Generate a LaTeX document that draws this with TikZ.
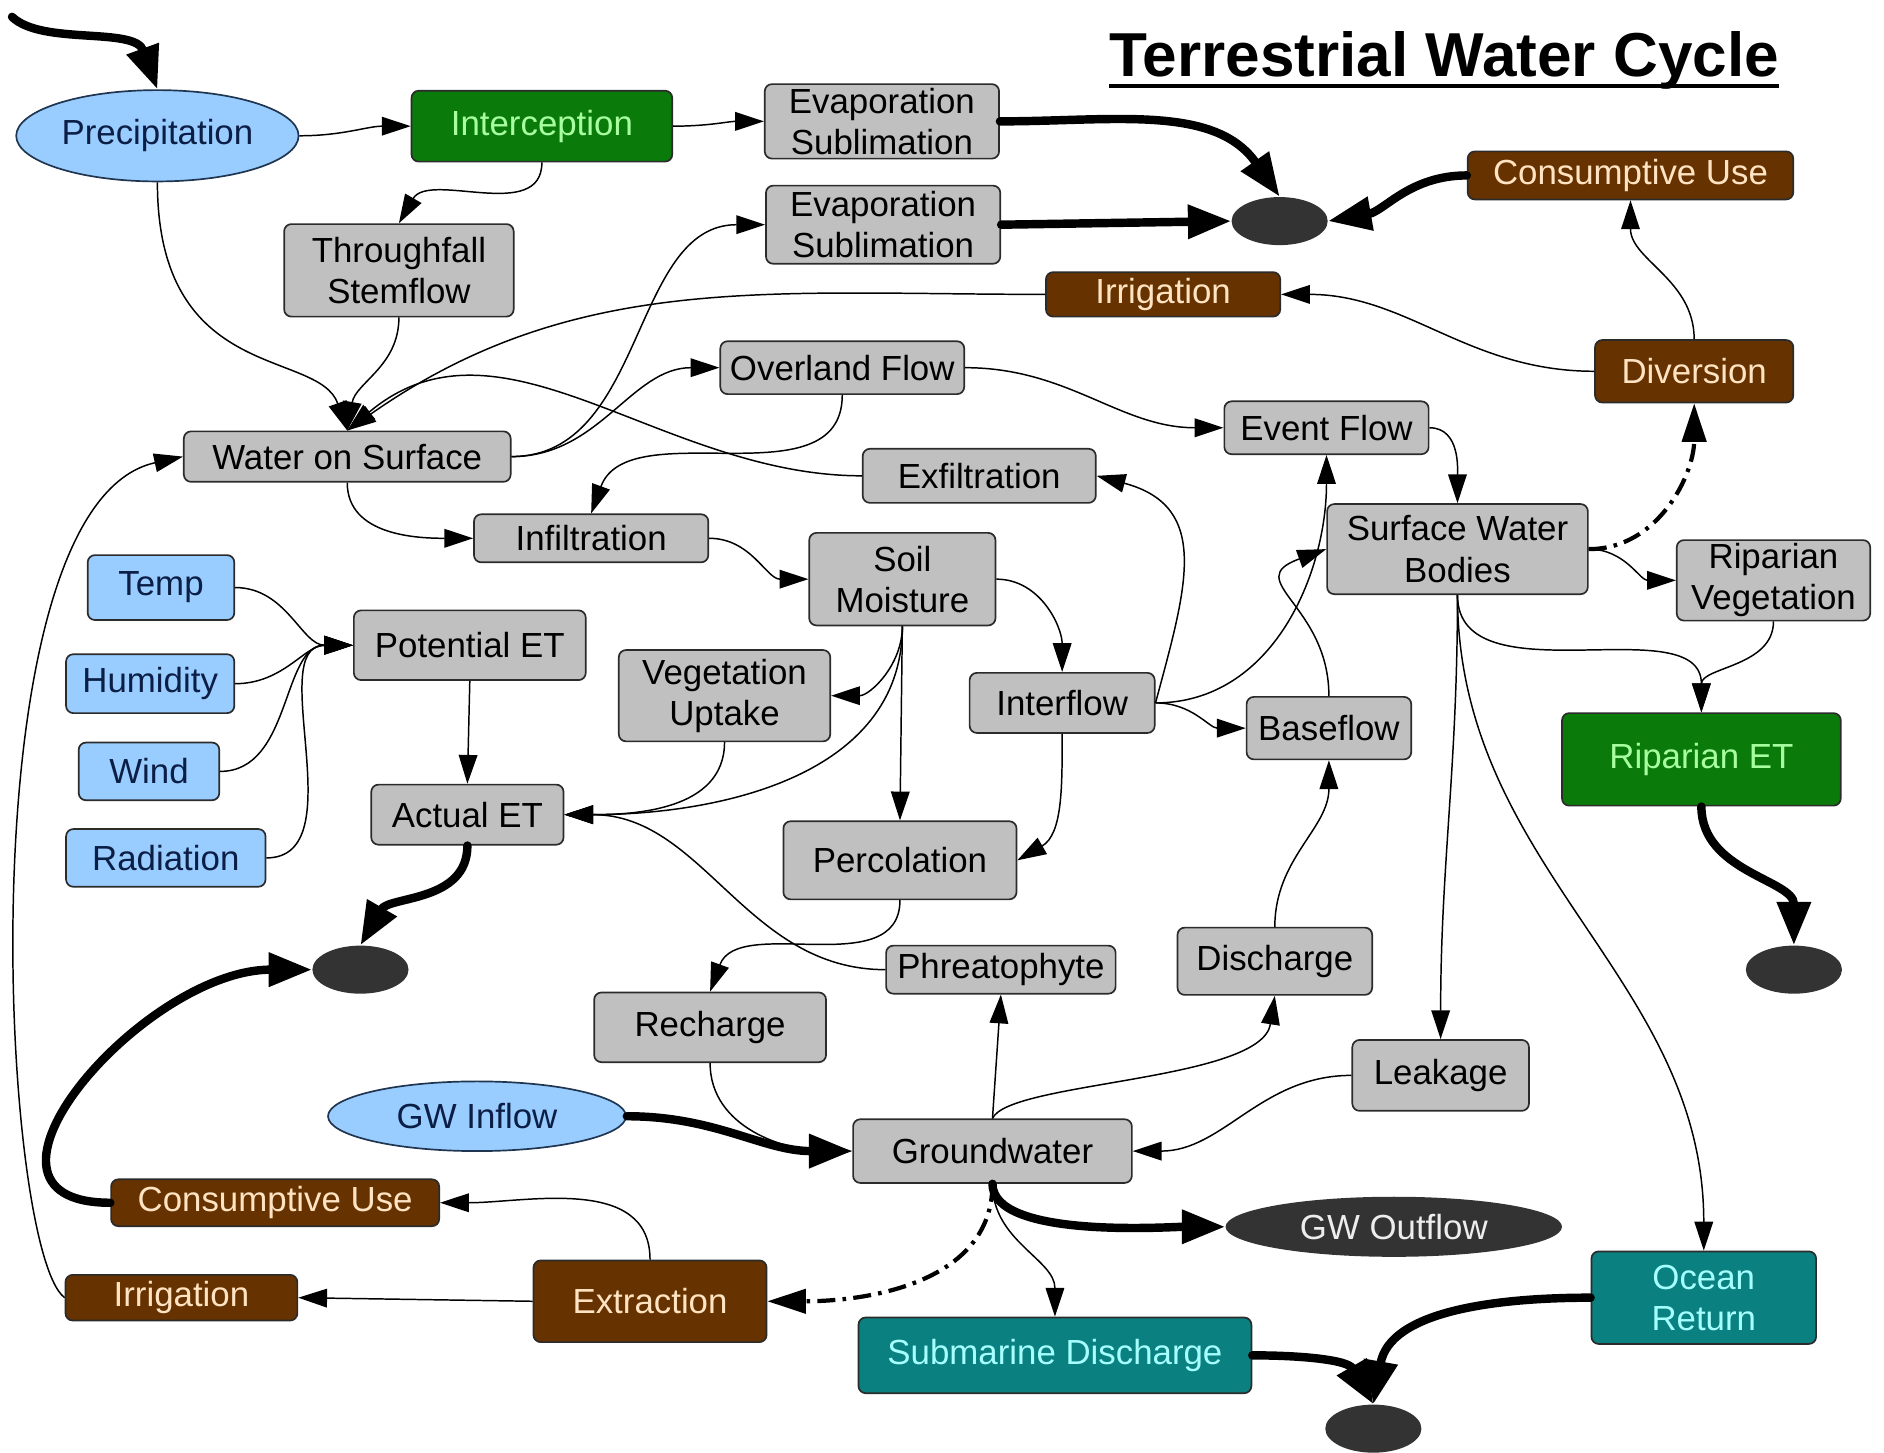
\documentclass[tikz,border=0pt]{standalone}
\usepackage{fontspec}
\setmainfont{Liberation Sans}
\usepackage{xcolor}
\usepackage{tikz}
\usetikzlibrary{shapes.geometric}
\usetikzlibrary{arrows.meta}

\definecolor{boxgray}{HTML}{C0C0C0}
\definecolor{boxline}{HTML}{2B2B2B}
\definecolor{skyfill}{HTML}{99CCFF}
\definecolor{skytext}{HTML}{0B1E45}
\definecolor{skyline}{HTML}{1F3550}
\definecolor{leaffill}{HTML}{0A7A0A}
\definecolor{leaftext}{HTML}{A8FFA0}
\definecolor{soilfill}{HTML}{663300}
\definecolor{soiltext}{HTML}{FFE3C2}
\definecolor{seafill}{HTML}{0A8080}
\definecolor{seatext}{HTML}{A6FFFF}
\definecolor{sinkfill}{HTML}{333333}
\definecolor{sinktext}{HTML}{EDEDED}

\begin{document}
\begin{tikzpicture}[
			x=0.2mm, y=-0.2mm,
			every node/.style={font=\fontsize{16.5}{19.5}\selectfont},
			store/.style={
				draw=boxline,
				fill=boxgray,
				line width=0.8pt,
				rounded corners=1.2mm,
				inner sep=0pt,
				align=center,
				text=black,
			},
			driver/.style={store, fill=skyfill, text=skytext},
			leaf/.style={store, fill=leaffill, text=leaftext},
			supply/.style={store, fill=soilfill, text=soiltext},
			sea/.style={store, fill=seafill, text=seatext},
			rain/.style={ellipse, draw=skyline, line width=0.8pt, fill=skyfill, text=skytext, inner sep=0pt},
			sink/.style={ellipse, fill=sinkfill, text=sinktext, inner sep=0pt,
				minimum width=16mm, minimum height=8mm},
			headline/.style={font=\fontsize{29.4}{33}\selectfont\bfseries, inner sep=0pt},
			flow/.style={line width=0.7pt, -{Triangle[length=4.8mm,width=3.1mm]}},
			bigflow/.style={line width=4pt, line cap=round, -{Triangle[length=7.2mm,width=5.4mm]}},
			maybe/.style={line width=2pt, dash pattern=on 3mm off 1.2mm on 0.6mm off 1.2mm,
				-{Triangle[length=6.4mm,width=4mm]}},
			]
			\useasboundingbox (0,0) rectangle (1568,1209);
			\node[headline, anchor=base] (title) at (1202,64) {Terrestrial Water Cycle};
			\draw[line width=1.9pt] ([yshift=-1.5mm]title.base west) -- ([yshift=-1.5mm]title.base east);
			%% Boxes
			\node[rain, minimum width=47mm, minimum height=15.2mm] (precip) at (131,113) {Precipitation};
			\node[leaf, minimum width=43.4mm, minimum height=11.8mm] (intercept) at (451,105) {Interception};
			\node[store, minimum width=39mm, minimum height=12.4mm] (evapA) at (734,101) {Evaporation\\Sublimation};
			\node[store, minimum width=39mm, minimum height=13mm] (evapB) at (735,187) {Evaporation\\Sublimation};
			\node[supply, minimum width=54.2mm, minimum height=8mm] (useA) at (1357,146) {Consumptive Use};
			\node[store, minimum width=38.2mm, minimum height=15.4mm] (thru) at (332,225) {Throughfall\\Stemflow};
			\node[supply, minimum width=39mm, minimum height=7.4mm] (irrA) at (968,245) {Irrigation};
			\node[store, minimum width=40.6mm, minimum height=8.8mm] (overland) at (701,306) {Overland Flow};
			\node[supply, minimum width=33mm, minimum height=10.4mm] (diversion) at (1410,309) {Diversion};
			\node[store, minimum width=54.4mm, minimum height=8.4mm] (surface) at (289,380) {Water on Surface};
			\node[store, minimum width=34mm, minimum height=8.8mm] (event) at (1104,356) {Event Flow};
			\node[store, minimum width=38.8mm, minimum height=9mm] (exfil) at (815,396) {Exfiltration};
			\node[store, minimum width=39mm, minimum height=8mm] (infil) at (492,448) {Infiltration};
			\node[store, minimum width=43.4mm, minimum height=15mm] (swb) at (1213,457) {Surface Water\\Bodies};
			\node[store, minimum width=32.2mm, minimum height=13.4mm] (ripveg) at (1476,483) {Riparian\\Vegetation};
			\node[store, minimum width=31mm, minimum height=15.4mm] (soil) at (751,482) {Soil\\Moisture};
			\node[driver, minimum width=24.4mm, minimum height=10.8mm] (temp) at (134,489) {Temp};
			\node[store, minimum width=38.6mm, minimum height=11.6mm] (pet) at (391,537) {Potential ET};
			\node[driver, minimum width=28mm, minimum height=9.8mm] (humid) at (125,569) {Humidity};
			\node[store, minimum width=35.2mm, minimum height=15.2mm] (uptake) at (603,579) {Vegetation\\Uptake};
			\node[store, minimum width=30.8mm, minimum height=10mm] (interflow) at (884,585) {Interflow};
			\node[store, minimum width=27.4mm, minimum height=10.4mm] (baseflow) at (1106,606) {Baseflow};
			\node[leaf, minimum width=46.4mm, minimum height=15.4mm] (ripet) at (1416,632) {Riparian ET};
			\node[driver, minimum width=23.4mm, minimum height=9.6mm] (wind) at (124,642) {Wind};
			\node[store, minimum width=32mm, minimum height=10mm] (aet) at (389,678) {Actual ET};
			\node[driver, minimum width=33.2mm, minimum height=9.6mm] (rad) at (138,714) {Radiation};
			\node[store, minimum width=38.8mm, minimum height=13mm] (perc) at (749,716) {Percolation};
			\node[store, minimum width=38.2mm, minimum height=8mm] (phreat) at (833,807) {Phreatophyte};
			\node[store, minimum width=32.4mm, minimum height=11.2mm] (discharge) at (1061,800) {Discharge};
			\node[store, minimum width=38.6mm, minimum height=11.6mm] (recharge) at (591,855) {Recharge};
			\node[store, minimum width=29.4mm, minimum height=11.8mm] (leakage) at (1199,895) {Leakage};
			\node[rain, minimum width=49.6mm, minimum height=11.6mm] (gwin) at (397,929) {GW Inflow};
			\node[store, minimum width=46.4mm, minimum height=10.6mm] (gw) at (826,958) {Groundwater};
			\node[supply, minimum width=54.6mm, minimum height=7.8mm] (useB) at (229,1001) {Consumptive Use};
			\node[sink, minimum width=56mm, minimum height=10mm] (gwout) at (1160,1021) {GW Outflow};
			\node[supply, minimum width=38.6mm, minimum height=7.6mm] (irrB) at (151,1080) {Irrigation};
			\node[supply, minimum width=38.8mm, minimum height=13.6mm] (extract) at (541,1083) {Extraction};
			\node[sea, minimum width=37.4mm, minimum height=15.4mm] (ocean) at (1418,1080) {Ocean\\Return};
			\node[sea, minimum width=65.4mm, minimum height=12.6mm] (submarine) at (878,1128) {Submarine Discharge};
			%% Sinks
			\node[sink] (sinkA) at (1065,184) {};
			\node[sink] (sinkB) at (300,807) {};
			\node[sink] (sinkC) at (1493,807) {};
			\node[sink] (sinkD) at (1143,1189) {};
			\coordinate (rain) at (10,14);
			%% Atmosphere and canopy
			\draw[bigflow] (rain) .. controls (35,38) and (112,22) .. (precip.north);
			\draw[flow] (precip.east) to[out=0,in=180] (intercept.west);
			\draw[flow] (intercept.east) to[out=0,in=180] (evapA.west);
			\draw[flow] (intercept.south) to[out=-90,in=60] (thru.north);
			\draw[bigflow] (evapA.east) to[out=0,in=125] (sinkA.north);
			\draw[bigflow] (evapB.east) -- (sinkA.west);
			\draw[bigflow] (useA.west) to[out=180,in=10] (sinkA.east);
			\draw[flow] (diversion.north) to[out=90,in=-90] (useA.south);
			\draw[flow] (diversion.west) to[out=180,in=0] (irrA.east);
			\draw[flow] (irrA.west) to[out=180,in=35] (surface.north);
			\draw[flow] (precip.south) .. controls (131,320) and (265,290) .. (surface.north);
			\draw[flow] (thru.south) to[out=-90,in=80] (surface.north);
			\draw[flow] (exfil.west) to[out=180,in=40] (surface.north);
			%% Land surface
			\draw[flow] (surface.east) to[out=0,in=180] (evapB.west);
			\draw[flow] (surface.east) to[out=0,in=180] (overland.west);
			\draw[flow] (overland.south) to[out=-90,in=70] (infil.north);
			\draw[flow] (surface.south) to[out=-90,in=180] (infil.west);
			\draw[flow] (overland.east) to[out=0,in=180] (event.west);
			\draw[flow] (event.east) to[out=0,in=90] (swb.north);
			\draw[flow] (infil.east) to[out=0,in=180] (soil.west);
			\draw[flow] (interflow.east) to[out=75,in=-15,looseness=1.3] (exfil.east);
			\draw[flow] (interflow.east) to[out=0,in=-90] (event.south);
			\draw[flow] (interflow.east) to[out=0,in=180] (baseflow.west);
			\draw[flow] (baseflow.north) to[out=90,in=200,looseness=1.6] (swb.west);
			\draw[flow] (swb.east) to[out=0,in=180] (ripveg.west);
			\draw[maybe] (swb.east) to[out=0,in=-90] (diversion.south);
			\draw[flow] (swb.south) to[out=-90,in=90] (ripet.north);
			\draw[flow] (ripveg.south) to[out=-90,in=90] (ripet.north);
			\draw[flow] (swb.south) to[out=-90,in=90] (leakage.north);
			\draw[flow] (swb.south) to[out=-90,in=90] (ocean.north);
			\draw[bigflow] (ripet.south) to[out=-90,in=90] (sinkC.north);
			%% Soil and ET
			\draw[flow] (soil.east) to[out=0,in=90] (interflow.north);
			\draw[flow] (soil.south) to[out=-90,in=0] (uptake.east);
			\draw[flow] (soil.south) to[out=-90,in=0] (aet.east);
			\draw[flow] (soil.south) -- (perc.north);
			\draw[flow] (uptake.south) to[out=-90,in=0] (aet.east);
			\draw[flow] (phreat.west) to[out=180,in=0] (aet.east);
			\draw[flow] (interflow.south) to[out=-90,in=30] (perc.east);
			\draw[flow] (temp.east) to[out=0,in=180] (pet.west);
			\draw[flow] (humid.east) to[out=0,in=180] (pet.west);
			\draw[flow] (wind.east) to[out=0,in=180] (pet.west);
			\draw[flow] (rad.east) to[out=0,in=180] (pet.west);
			\draw[flow] (pet.south) -- (aet.north);
			\draw[bigflow] (aet.south) to[out=-90,in=60] (sinkB.north);
			\draw[bigflow] (useB.west) to[out=180,in=180,looseness=1.4] (sinkB.west);
			\draw[flow] (irrB.west) .. controls (0,1040) and (-30,420) .. (surface.west);
			%% Groundwater
			\draw[flow] (perc.south) to[out=-90,in=70] (recharge.north);
			\draw[flow] (recharge.south) to[out=-90,in=180] (gw.west);
			\draw[bigflow] (gwin.east) to[out=0,in=180] (gw.west);
			\draw[flow] (gw.north) -- (phreat.south);
			\draw[flow] (gw.north) .. controls (840,900) and (1050,900) .. (discharge.south);
			\draw[flow] (discharge.north) to[out=90,in=-90] (baseflow.south);
			\draw[flow] (leakage.west) to[out=180,in=0] (gw.east);
			\draw[bigflow] (gw.south) to[out=-90,in=180,looseness=0.6] (gwout.west);
			\draw[flow] (gw.south) to[out=-90,in=90] (submarine.north);
			\draw[maybe] (gw.south) to[out=-90,in=0] (extract.east);
			\draw[flow] (extract.north) to[out=90,in=0] (useB.east);
			\draw[flow] (extract.west) -- (irrB.east);
			\draw[bigflow] (submarine.east) to[out=0,in=120] (sinkD.north);
			\draw[bigflow] (ocean.west) to[out=180,in=80] (sinkD.north);
		\end{tikzpicture}
\end{document}
